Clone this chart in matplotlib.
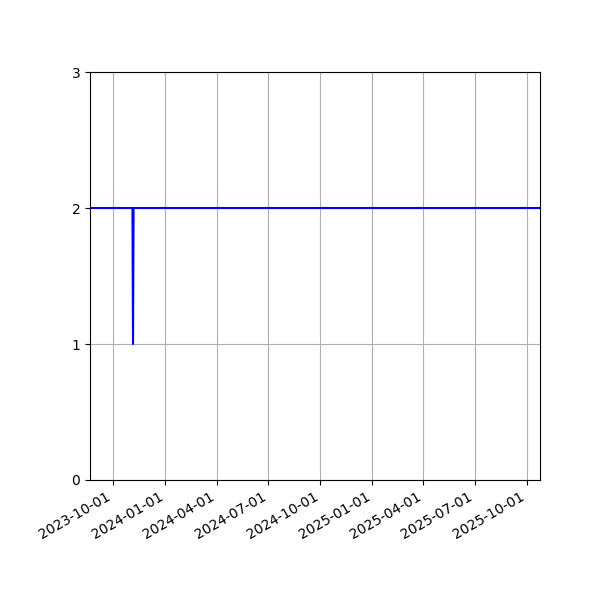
import numpy as np
import pandas as pd
import matplotlib
matplotlib.use('Agg')
import matplotlib.pyplot as plt
import matplotlib.dates as mdates

# series: mostly 2, one dip to 1 in early November 2023
dates = ['2023-08-21', '2023-11-04', '2023-11-05', '2023-11-06', '2025-10-24']
values = [2, 2, 1, 2, 2]
yticks = [0, 1, 2, 3]

x = pd.to_datetime(dates)

fig, ax = plt.subplots(figsize=(6, 6), dpi=100)
ax.plot(x, values, color='b', linewidth=1.5)
ax.set_xlim(x[0], x[-1])
ax.set_ylim(0, 3)
ax.set_yticks(yticks)
ax.xaxis.set_major_locator(mdates.MonthLocator(bymonth=[1, 4, 7, 10]))
ax.xaxis.set_major_formatter(mdates.DateFormatter('%Y-%m-%d'))
ax.grid(True)
fig.autofmt_xdate()
fig.subplots_adjust(left=0.15, right=0.9, top=0.88, bottom=0.2)
fig.savefig('out.png')
